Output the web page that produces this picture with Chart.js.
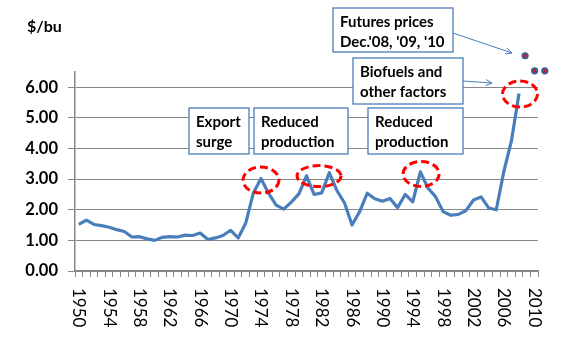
<!DOCTYPE html>
<html>
<head>
<meta charset="utf-8">
<script src="https://cdn.jsdelivr.net/npm/chart.js@4.4.1/dist/chart.umd.min.js"></script>
<style>
  html, body { margin: 0; padding: 0; background: #fff; }
</style>
</head>
<body>
<canvas id="corn-chart" width="561" height="348"></canvas>
<script>
// season-average corn price, $/bu
const years = [];
for (let y = 1950; y <= 2010; y++) years.push(String(y));

const prices = [
  1.52, 1.66, 1.52, 1.48, 1.43, 1.35, 1.29, 1.11, 1.12, 1.05,   // 1950s
  1.00, 1.10, 1.12, 1.11, 1.17, 1.16, 1.24, 1.03, 1.08, 1.16,   // 1960s
  1.33, 1.08, 1.57, 2.55, 3.02, 2.54, 2.15, 2.02, 2.25, 2.52,   // 1970s
  3.11, 2.50, 2.55, 3.21, 2.63, 2.23, 1.50, 1.94, 2.54, 2.36,   // 1980s
  2.28, 2.37, 2.07, 2.50, 2.26, 3.24, 2.71, 2.43, 1.94, 1.82,   // 1990s
  1.85, 1.97, 2.32, 2.42, 2.06, 2.00, 3.25, 4.25, 5.80          // 2000-2008
];

// Dec futures, sitting above the plot area
const futuresYears = [2008.8, 2010.05, 2011.4];
const futuresPrices = [7.03, 6.54, 6.54];

const yTicks = [0, 1, 2, 3, 4, 5, 6];
const shownYears = ['1950', '1954', '1958', '1962', '1966', '1970', '1974', '1978',
                    '1982', '1986', '1990', '1994', '1998', '2002', '2006', '2010'];

// dashed rings around the price spikes
const highlights = [
  { year: 1974.0, price: 2.97, rx: 18, ry: 13 },
  { year: 1981.65, price: 3.10, rx: 22, ry: 10.5 },
  { year: 1995.1, price: 3.17, rx: 18, ry: 12.5 },
  { year: 2008.13, price: 5.78, rx: 17.5, ry: 13 }
];

const notes = [
  { lines: ['Futures prices', "Dec.'08, '09, '10"], box: [333, 8, 120, 44] },
  { lines: ['Biofuels and', 'other factors'], box: [353, 58, 110, 46] },
  { lines: ['Export', 'surge'], box: [189, 108, 60, 46] },
  { lines: ['Reduced', 'production'], box: [254, 108, 94, 46] },
  { lines: ['Reduced', 'production'], box: [368, 108, 95, 46] }
];
const arrows = [
  [453, 33, 512, 53],
  [463, 81, 492, 83]
];

const BLUE = '#4a7ebb';
const GRID = '#878787';

function arrow(ctx, x1, y1, x2, y2) {
  const a = Math.atan2(y2 - y1, x2 - x1);
  ctx.beginPath();
  ctx.moveTo(x1, y1);
  ctx.lineTo(x2, y2);
  ctx.moveTo(x2 - 7 * Math.cos(a - 0.45), y2 - 7 * Math.sin(a - 0.45));
  ctx.lineTo(x2, y2);
  ctx.lineTo(x2 - 7 * Math.cos(a + 0.45), y2 - 7 * Math.sin(a + 0.45));
  ctx.stroke();
}

const decorations = {
  id: 'decorations',
  afterDraw(chart) {
    const ctx = chart.ctx;
    const xs = chart.scales.x;
    const xf = chart.scales.xf;
    const ys = chart.scales.y;
    ctx.save();

    // unit label
    ctx.fillStyle = '#000';
    ctx.font = 'bold 16px Lato';
    ctx.textAlign = 'left';
    ctx.textBaseline = 'middle';
    ctx.fillText('$/bu', 27, 27);

    // year labels, turned to read downwards
    ctx.font = '17px Lato';
    years.forEach((yr, i) => {
      if (!shownYears.includes(yr)) return;
      const x = xs.getPixelForTick(i);
      ctx.save();
      ctx.translate(x, xs.top + 17);
      ctx.rotate(Math.PI / 2);
      ctx.fillText(yr, 0, 0);
      ctx.restore();
    });

    // futures dots (outside the chart area, so drawn here)
    futuresYears.forEach((yr, i) => {
      const px = xf.getPixelForValue(yr);
      const py = ys.getPixelForValue(futuresPrices[i]);
      ctx.fillStyle = '#3d5f95';
      ctx.beginPath();
      ctx.arc(px, py, 3.6, 0, Math.PI * 2);
      ctx.fill();
      ctx.fillStyle = '#e8121f';
      ctx.beginPath();
      ctx.arc(px, py, 1.6, 0, Math.PI * 2);
      ctx.fill();
    });

    // rings
    ctx.strokeStyle = '#ff0000';
    ctx.lineWidth = 3;
    ctx.setLineDash([8, 4]);
    highlights.forEach(h => {
      ctx.beginPath();
      ctx.ellipse(xf.getPixelForValue(h.year), ys.getPixelForValue(h.price), h.rx, h.ry, 0, 0, Math.PI * 2);
      ctx.stroke();
    });
    ctx.setLineDash([]);

    // callout boxes
    ctx.font = 'bold 15px Lato';
    notes.forEach(n => {
      const [bx, by, bw, bh] = n.box;
      ctx.fillStyle = '#fff';
      ctx.fillRect(bx, by, bw, bh);
      ctx.strokeStyle = BLUE;
      ctx.lineWidth = 1.3;
      ctx.strokeRect(bx, by, bw, bh);
      ctx.fillStyle = '#000';
      n.lines.forEach((t, k) => ctx.fillText(t, bx + 7, by + 14 + k * 20.5));
    });

    ctx.strokeStyle = BLUE;
    ctx.lineWidth = 1;
    arrows.forEach(a => arrow(ctx, ...a));
    ctx.restore();
  }
};

new Chart(document.getElementById('corn-chart').getContext('2d'), {
  type: 'line',
  data: {
    labels: years,
    datasets: [{
      label: 'Corn price',
      data: prices,
      borderColor: BLUE,
      borderWidth: 3.2,
      pointRadius: 0,
      tension: 0,
      borderJoinStyle: 'round',
      xAxisID: 'x'
    }]
  },
  options: {
    responsive: false,
    animation: false,
    devicePixelRatio: 1,
    layout: { padding: { top: 72, right: 23, left: 0, bottom: 0 } },
    plugins: { legend: { display: false }, tooltip: { enabled: false } },
    scales: {
      x: {
        type: 'category',
        offset: true,
        grid: { offset: true, drawOnChartArea: false, color: GRID, tickLength: 6 },
        border: { color: GRID, width: 1.5 },
        ticks: { display: false },
        afterFit: s => { s.height = 77; }
      },
      xf: {
        type: 'linear',
        display: false,
        min: 1949.5,
        max: 2010.5
      },
      y: {
        min: 0,
        max: 6.5,
        afterBuildTicks: s => { s.ticks = yTicks.map(v => ({ value: v })); },
        ticks: {
          callback: v => v.toFixed(2),
          color: '#000',
          font: { family: 'Lato', size: 16.5, weight: 'bold' },
          padding: 10
        },
        grid: { color: GRID, lineWidth: 1, tickLength: 7 },
        border: { color: GRID, width: 1.5 },
        afterFit: s => { s.width = 75; }
      }
    }
  },
  plugins: [decorations]
});
</script>
</body>
</html>
